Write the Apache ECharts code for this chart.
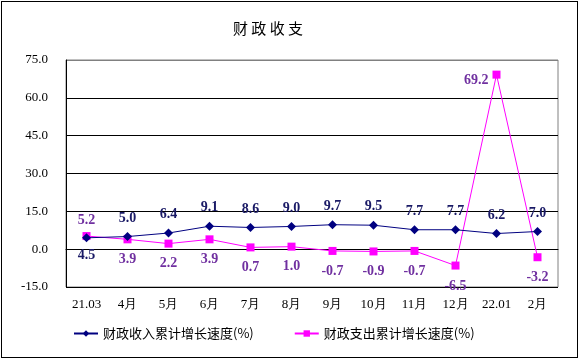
<!DOCTYPE html>
<html><head><meta charset="utf-8">
<script src="https://cdn.jsdelivr.net/npm/echarts@6/dist/echarts.min.js"></script>
<style>html,body{margin:0;padding:0;background:#fff}#c{width:579px;height:359px}
#frame{position:absolute;left:1px;top:1px;width:575px;height:355px;border:1px solid #000;pointer-events:none}</style>
</head><body><div id="c"></div><div id="frame"></div>
<script>
const categories = ['21.03','4月','5月','6月','7月','8月','9月','10月','11月','12月','22.01','2月'];
const revenue = [4.5, 5.0, 6.4, 9.1, 8.6, 9.0, 9.7, 9.5, 7.7, 7.7, 6.2, 7.0];
const expenditure = [5.2, 3.9, 2.2, 3.9, 0.7, 1.0, -0.7, -0.9, -0.7, -6.5, 69.2, -3.2];
const yTicks = {min: -15, max: 75, interval: 15};
const seriesNames = ['财政收入累计增长速度(%)', '财政支出累计增长速度(%)'];

const serif = '"Liberation Serif","Times New Roman",serif';
const lblBase = {show: true, fontFamily: serif, fontWeight: 'bold', fontSize: 14,
  formatter: p => Number(p.value).toFixed(1)};

const revData = revenue.map((v, i) => ({
  value: v,
  label: i === 0 ? {position: 'bottom', distance: 6} : {position: 'top', distance: 7}
}));
const expData = expenditure.map((v, i) => {
  let label = {position: 'bottom', distance: 9};
  if (i === 0) label = {position: 'top', distance: 5};
  if (v > 50) label = {position: 'left', distance: 4, offset: [0, 6]};
  if (v < -5) label = {position: 'bottom', distance: 10};
  return {value: v, label};
});

const chart = echarts.init(document.getElementById('c'));
chart.setOption({
  animation: false,
  title: {
    text: '财 政 收 支', left: 228, top: 16,
    textStyle: {fontFamily: '"Noto Sans CJK SC"', fontWeight: 'normal', fontSize: 15, color: '#000'}
  },
  legend: {
    bottom: 14, left: 68, itemGap: 40, itemWidth: 24, itemHeight: 8,
    textStyle: {fontFamily: '"Noto Sans CJK SC"', fontSize: 13, color: '#000'},
    data: seriesNames
  },
  grid: {left: 66, right: 21, top: 60, bottom: 72, show: true, borderColor: '#808080', borderWidth: 1},
  xAxis: {
    type: 'category', data: categories, boundaryGap: true,
    axisLine: {lineStyle: {color: '#000', width: 1}},
    axisTick: {inside: true, length: 4, lineStyle: {color: '#000'}},
    axisLabel: {fontFamily: serif, fontSize: 13, color: '#000', margin: 11, interval: 0}
  },
  yAxis: {
    type: 'value', min: yTicks.min, max: yTicks.max, interval: yTicks.interval,
    axisLine: {show: true, lineStyle: {color: '#000'}},
    axisTick: {show: false},
    axisLabel: {fontFamily: serif, fontSize: 13, color: '#000', margin: 18, formatter: v => v.toFixed(1)},
    splitLine: {lineStyle: {color: ['#000','#000','#000','#000','#000','#000','#808080'], width: 1}}
  },
  series: [
    {
      name: seriesNames[0], type: 'line', data: revData,
      symbol: 'diamond', symbolSize: 9,
      lineStyle: {color: '#000080', width: 1},
      itemStyle: {color: '#000080'},
      label: Object.assign({}, lblBase, {color: '#1a1a66'}),
      z: 3
    },
    {
      name: seriesNames[1], type: 'line', data: expData,
      symbol: 'rect', symbolSize: 8,
      lineStyle: {color: '#ff00ff', width: 1},
      itemStyle: {color: '#ff00ff'},
      label: Object.assign({}, lblBase, {color: '#7030a0'}),
      z: 2
    }
  ]
});
</script></body></html>
